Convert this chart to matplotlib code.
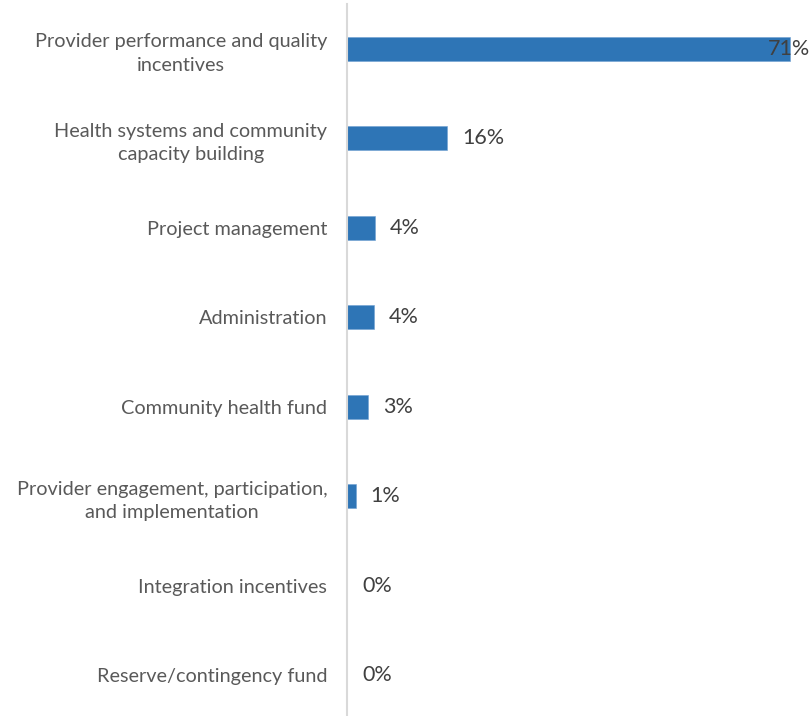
import matplotlib
matplotlib.use('Agg')
import matplotlib.pyplot as plt

plt.rcParams['font.family'] = ['Lato', 'DejaVu Sans']

# data
categories = ['Provider performance and quality\nincentives',
              'Health systems and community\ncapacity building',
              'Project management',
              'Administration',
              'Community health fund',
              'Provider engagement, participation,\nand implementation',
              'Integration incentives',
              'Reserve/contingency fund']
shares = [70.9, 16.0, 4.4, 4.2, 3.3, 1.3, 0.0, 0.0]
value_labels = ['71%', '16%', '4%', '4%', '3%', '1%', '0%', '0%']

W, H = 812, 716
fig = plt.figure(figsize=(W / 100, H / 100), dpi=100)
# plot area: axis line at x=347.5px, top at 4px, rows every 89.5px
ax = fig.add_axes([347.5 / W, (H - 4 - 8 * 89.5) / H, (W - 347.5) / W, 8 * 89.5 / H])

pos = list(range(len(categories)))
ax.barh(pos, shares, height=0.27, color='#2E75B6', edgecolor='#6FA0D2', linewidth=0.4)
ax.set_ylim(7.5, -0.5)
ax.set_xlim(0, (W - 347.5) / 6.24)

for s in ['top', 'right', 'bottom']:
    ax.spines[s].set_visible(False)
ax.spines['left'].set_color('#D9D9D9')
ax.spines['left'].set_linewidth(1.5)
ax.set_xticks([])
ax.set_yticks(pos)
ax.set_yticklabels(categories, multialignment='center', color='#595959',
                   fontsize=14.3, linespacing=1.45)
ax.tick_params(axis='y', length=0, pad=14.5)

xmax = ax.get_xlim()[1]
for i, (v, lab) in enumerate(zip(shares, value_labels)):
    if v > 60:
        ax.text(xmax - 0.3, i, lab, ha='right', va='center', fontsize=15.5, color='#404040')
    else:
        ax.annotate(lab, (v, i), xytext=(15, 0), textcoords='offset pixels',
                    ha='left', va='center', fontsize=15.5, color='#404040')

fig.savefig('out.png', dpi=100)
